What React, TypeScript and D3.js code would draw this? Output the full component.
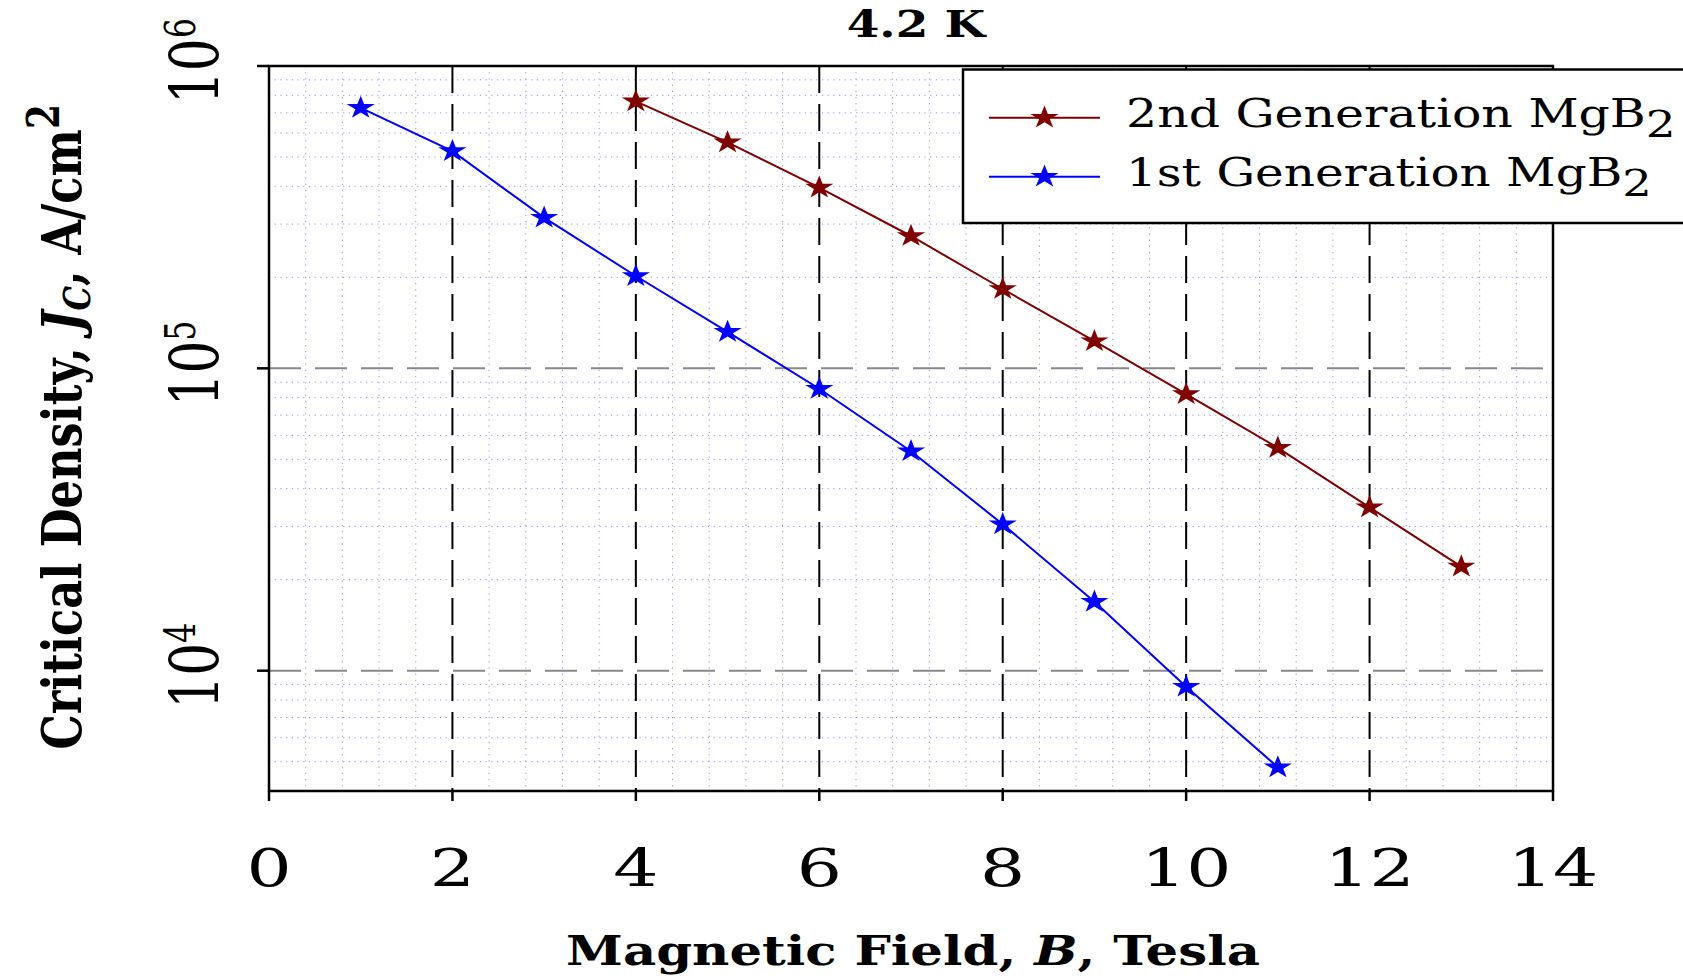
import React, { useLayoutEffect, useRef, useState } from "react";
import * as d3 from "d3";

// values (B in Tesla, Jc in A/cm^2)
const fieldGen1 = [1, 2, 3, 4, 5, 6, 7, 8, 9, 10, 11];
const jcGen1 = [7.27e5, 5.23e5, 3.15e5, 2.02e5, 1.32e5, 8.56e4, 5.32e4, 3.05e4, 1.69e4, 8.85e3, 4.79e3];
const fieldGen2 = [4, 5, 6, 7, 8, 9, 10, 11, 12, 13];
const jcGen2 = [7.64e5, 5.59e5, 3.96e5, 2.74e5, 1.83e5, 1.23e5, 8.22e4, 5.46e4, 3.47e4, 2.21e4];

const xTicks = [0, 2, 4, 6, 8, 10, 12, 14];
const yExponents = [4, 5, 6];
const legendNames = ["2nd Generation MgB", "1st Generation MgB"];
const colors = { gen2: "#800000", gen1: "#0000ff" };

const W = 1683;
const H = 976;
const margin = { top: 66, right: 130, bottom: 185, left: 269 };
const FONT = "DejaVu Serif";

// text squeezed/stretched along its reading direction to a given length
const FitText = ({ x, y, angle = 0, target, anchor = "middle", size, weight = "normal", children }: any) => {
  const ref = useRef<SVGTextElement>(null);
  const [k, setK] = useState(1);
  useLayoutEffect(() => {
    if (!ref.current) return;
    const w = ref.current.getBBox().width;
    if (w > 0) setK(target / w);
  }, [target]);
  return (
    <g transform={`translate(${x},${y}) rotate(${angle})`}>
      <g transform={`scale(${k},1)`}>
        <text ref={ref} textAnchor={anchor} fontFamily={FONT} fontSize={size} fontWeight={weight} fill="#000">
          {children}
        </text>
      </g>
    </g>
  );
};

const starPath = (R: number) => {
  const pts: string[] = [];
  for (let i = 0; i < 10; i++) {
    const r = i % 2 === 0 ? R : R * 0.382;
    const a = (-90 + i * 36) * Math.PI / 180;
    pts.push(`${(r * Math.cos(a)).toFixed(2)},${(r * Math.sin(a)).toFixed(2)}`);
  }
  return "M" + pts.join("L") + "Z";
};
const STAR = starPath(12.2);

const Star = ({ x, y, color }: any) => (
  <path d={STAR} transform={`translate(${x},${y}) scale(1.22,1)`} fill={color} />
);

export default function App() {
  const x = d3.scaleLinear().domain([0, 14]).range([margin.left, W - margin.right]);
  const y = d3.scaleLog().domain([4000, 1e6]).range([H - margin.bottom, margin.top]);
  const [x0, x1] = x.range();
  const [y0, y1] = y.range();

  const path = (xs: number[], ys: number[]) =>
    d3.line<number>().x((_, i) => x(xs[i])).y((_, i) => y(ys[i]))(xs.map((_, i) => i)) || "";

  // minor grid
  const xMinor = d3.range(1, 35).map(i => i * 0.4).filter(v => Math.abs(v / 2 - Math.round(v / 2)) > 1e-6);
  const yMinor: number[] = [];
  [3, 4, 5].forEach(e => d3.range(2, 10).forEach(m => {
    const v = m * Math.pow(10, e);
    if (v > 4000 && v < 1e6) yMinor.push(v);
  }));

  const legendTop = 69.5;
  const rows = [117.7, 176.7];

  return (
    <svg width={W} height={H} style={{ position: "absolute", left: 0, top: 0, background: "#fff" }}>
      <rect x={0} y={0} width={W} height={H} fill="#fff" />

      {/* minor grid */}
      <g stroke="#3a3aff" strokeWidth={1} opacity={0.55}>
        {xMinor.map(v => <line key={"xm" + v} x1={x(v)} x2={x(v)} y1={y1} y2={y0} strokeDasharray="1.2,5" />)}
        {yMinor.map(v => <line key={"ym" + v} x1={x0} x2={x1} y1={y(v)} y2={y(v)} strokeDasharray="1.2,4.5" />)}
      </g>

      {/* major grid */}
      <g stroke="#888" strokeWidth={2} strokeDasharray="32,14">
        {[1e4, 1e5].map(v => <line key={"yg" + v} x1={x0} x2={x1} y1={y(v)} y2={y(v)} />)}
      </g>
      <g stroke="#000" strokeWidth={2} strokeDasharray="27,11">
        {xTicks.slice(1, -1).map(v => <line key={"xg" + v} x1={x(v)} x2={x(v)} y1={y1} y2={y0} />)}
      </g>

      {/* series */}
      <path d={path(fieldGen2, jcGen2)} fill="none" stroke={colors.gen2} strokeWidth={2} />
      <path d={path(fieldGen1, jcGen1)} fill="none" stroke={colors.gen1} strokeWidth={2} />
      {fieldGen2.map((b, i) => <Star key={"s2" + i} x={x(b)} y={y(jcGen2[i])} color={colors.gen2} />)}
      {fieldGen1.map((b, i) => <Star key={"s1" + i} x={x(b)} y={y(jcGen1[i])} color={colors.gen1} />)}

      {/* axes box and ticks */}
      <g stroke="#000" strokeWidth={2.5} fill="none">
        <rect x={x0} y={y1} width={x1 - x0} height={y0 - y1} />
        {xTicks.map(v => <line key={"xt" + v} x1={x(v)} x2={x(v)} y1={y0} y2={y0 + 10} />)}
        {yExponents.map(e => <line key={"yt" + e} x1={x0 - 12} x2={x0} y1={y(Math.pow(10, e))} y2={y(Math.pow(10, e))} />)}
      </g>

      {/* x tick labels */}
      {xTicks.map(v => (
        <g key={"xl" + v} transform={`translate(${x(v)},886) scale(1.34,1)`}>
          <text textAnchor="middle" fontFamily={FONT} fontSize={53}>{v}</text>
        </g>
      ))}

      {/* y tick labels */}
      {yExponents.map(e => (
        <FitText key={"yl" + e} x={218} y={y(Math.pow(10, e)) - 5} angle={-90} target={86} size={68}>
          10<tspan dy={-23} fontSize={42}>{e}</tspan>
        </FitText>
      ))}

      {/* legend */}
      <rect x={963} y={legendTop} width={800} height={223 - legendTop} fill="#fff" stroke="#000" strokeWidth={2.5} />
      {[colors.gen2, colors.gen1].map((c, i) => (
        <g key={"lg" + i}>
          <line x1={989} x2={1100} y1={rows[i]} y2={rows[i]} stroke={c} strokeWidth={2} />
          <Star x={1044.5} y={rows[i]} color={c} />
          <FitText x={1126} y={rows[i] + 9.5} anchor="start" target={i === 0 ? 550 : 526} size={38.5}>
            {legendNames[i]}<tspan dy={10} fontSize={37}>2</tspan>
          </FitText>
        </g>
      ))}

      {/* titles */}
      <FitText x={916} y={36.7} target={141} size={37} weight="bold">4.2 K</FitText>
      <FitText x={913} y={965} target={694} size={41} weight="bold">
        Magnetic Field, <tspan fontStyle="italic">B</tspan>, Tesla
      </FitText>
      <FitText x={81} y={427} angle={-90} target={646} size={55} weight="bold">
        Critical Density, <tspan fontStyle="italic">J</tspan>
        <tspan fontStyle="italic" fontSize={38} dy={9}>C</tspan>
        <tspan dy={-9}>, A/cm</tspan>
        <tspan dy={-22} fontSize={44}>2</tspan>
      </FitText>
    </svg>
  );
}
